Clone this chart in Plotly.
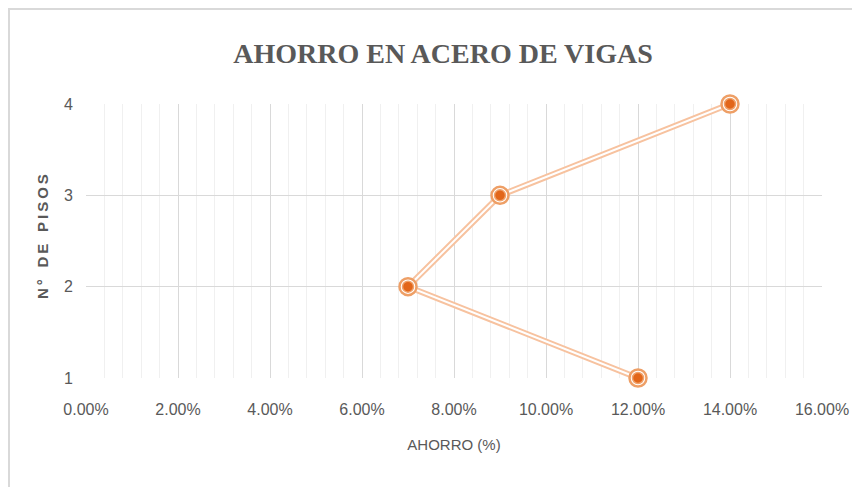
import plotly.graph_objects as go

# data
pisos = [1, 2, 3, 4]
ahorro = [0.12, 0.07, 0.09, 0.14]
x_ticks = [0, 0.02, 0.04, 0.06, 0.08, 0.10, 0.12, 0.14, 0.16]
y_ticks = [1, 2, 3, 4]

_SANS = "Liberation Sans Narrow, Arial Narrow, Liberation Sans, sans-serif"
_GREY = "#595959"

# the page body keeps its default 8px margin, so the figure is drawn 8px in
W, H = 852, 479
L, T, PW, PH = 78, 96, 736, 274

fig = go.Figure()

# double line: light orange band with a white core
fig.add_trace(go.Scatter(x=ahorro, y=pisos, mode="lines",
                         line=dict(color="#F7C29F", width=6),
                         cliponaxis=False, hoverinfo="skip", showlegend=False))
fig.add_trace(go.Scatter(x=ahorro, y=pisos, mode="lines",
                         line=dict(color="white", width=2),
                         cliponaxis=False, hoverinfo="skip", showlegend=False))
# ringed markers
fig.add_trace(go.Scatter(x=ahorro, y=pisos, mode="markers",
                         marker=dict(size=17, color="white",
                                     line=dict(color="#EE9F66", width=2.5)),
                         cliponaxis=False, hoverinfo="skip", showlegend=False))
fig.add_trace(go.Scatter(x=ahorro, y=pisos, mode="markers",
                         marker=dict(size=11, color="#E2661A",
                                     line=dict(color="#F0A26B", width=1.5)),
                         cliponaxis=False, showlegend=False))

fig.update_layout(
    width=W, height=H,
    margin=dict(l=L, r=W - L - PW, t=T, b=H - T - PH),
    paper_bgcolor="white", plot_bgcolor="white",
    title=dict(text="<b>AHORRO EN ACERO DE VIGAS</b>",
               font=dict(family="Liberation Serif, Times New Roman, serif",
                         size=28, color=_GREY),
               x=435 / W, xanchor="center", xref="container",
               y=1 - 45 / H, yanchor="middle", yref="container"),
    xaxis=dict(range=[0, 0.16], tickvals=x_ticks, tickformat=".2%",
               automargin=False,
               showgrid=True, gridcolor="#D9D9D9", gridwidth=1,
               minor=dict(dtick=0.004, showgrid=True, gridcolor="#F0F0F0",
                          gridwidth=1),
               zeroline=False, showline=False, ticks="",
               ticklabelstandoff=20,
               tickfont=dict(family=_SANS, size=16, color=_GREY),
               title=dict(text="AHORRO (%)", standoff=22,
                          font=dict(family=_SANS, size=15, color=_GREY))),
    yaxis=dict(range=[1, 4], tickvals=y_ticks, automargin=False,
               showgrid=True, gridcolor="#D9D9D9", gridwidth=1,
               zeroline=False, showline=False, ticks="",
               ticklabelstandoff=12,
               tickfont=dict(family=_SANS, size=16, color=_GREY)),
    shapes=[dict(type="rect", xref="paper", yref="paper",
                 x0=(1 - L) / PW, x1=1.3, y0=-1.0, y1=(T + PH - 1) / PH,
                 line=dict(color="#D9D9D9", width=2), layer="below")],
    annotations=[dict(text="<b>N\u2009°\u2002 D\u2009E\u2002 P\u2009I\u2009S\u2009O\u2009S</b>",
                      xref="paper", yref="paper",
                      x=(34 - L) / PW, y=(T + PH - 229) / PH,
                      xanchor="center", yanchor="middle", textangle=-90,
                      showarrow=False,
                      font=dict(family="Liberation Sans, Arial, sans-serif",
                                size=15, color=_GREY))],
)

fig.write_html("out.html")
